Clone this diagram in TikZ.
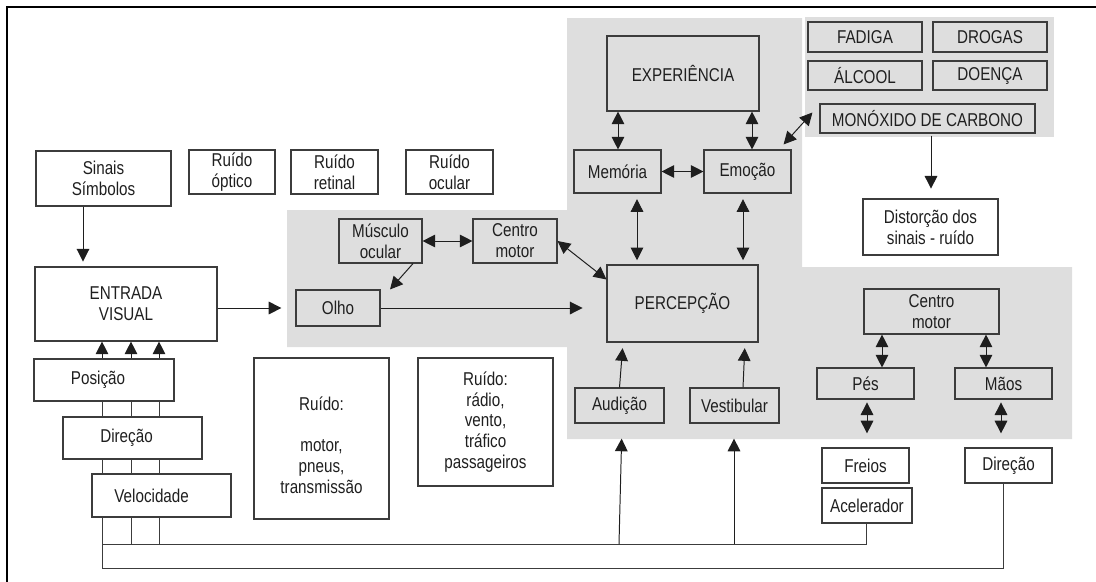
\documentclass[tikz,border=0pt]{standalone}
\usepackage{fontspec}
\setmainfont{Liberation Sans}[FakeStretch=0.82]
\usetikzlibrary{arrows.meta, calc}
\definecolor{fundo}{RGB}{222,222,222}
\definecolor{borda}{RGB}{60,60,60}
\definecolor{traco}{RGB}{30,30,30}

\begin{document}
\begin{tikzpicture}[x=0.025cm, y=-0.025cm,
    every node/.style={font=\fontsize{13.2}{14.8}\selectfont, text=black!88},
    tam/.style 2 args={minimum width=#1*0.025cm, minimum height=#2*0.025cm},
    cx/.style={draw=borda, line width=0.8pt, align=center, inner sep=0pt, fill=white},
    cz/.style={cx, fill=fundo},
    linha/.style={draw=borda, line width=0.7pt},
    seta/.style={draw=traco, line width=0.7pt, -{Triangle[length=9pt,width=9pt]}},
    dupla/.style={draw=traco, line width=0.7pt, {Triangle[length=9pt,width=9pt]}-{Triangle[length=9pt,width=9pt]}}]
  \useasboundingbox (0,0) rectangle (1096,581);
  \fill[fundo] (287,210) -- (567,210) -- (567,18) -- (802,18) -- (802,267) -- (1072,267)
    -- (1072,439) -- (567,439) -- (567,347) -- (287,347) -- cycle;
  \fill[fundo] (805,17) rectangle (1054,137);
  \draw[line width=2pt] (7,7) rectangle (1110,595);

  \node[cx, tam={135}{55}] (sinais) at (103.5,178.5) {Sinais\\Símbolos};
  \node[cx, tam={86}{44}] (roptico) at (232,172) {Ruído\\óptico};
  \node[cx, tam={87}{44}] (rretinal) at (334.5,172) {Ruído\\retinal};
  \node[cx, tam={87}{44}] (rocular) at (449.5,172) {Ruído\\ocular};
  \node[cx, tam={182}{74}] (entrada) at (126,304) {ENTRADA\\VISUAL};
  \node[cz, tam={83}{44}] (musculo) at (380.5,241) {Músculo\\ocular};
  \node[cz, tam={84}{44}] (centroa) at (515,241) {Centro\\motor};
  \node[cz, tam={84}{36}] (olho) at (338,308) {Olho};
  \node[cz, tam={152}{75}] (experiencia) at (683,73.5) {EXPERIÊNCIA};
  \node[cz, tam={87}{43}] (memoria) at (617.5,171.5) {Memória};
  \node[cz, tam={87}{43}] (emocao) at (747.5,171.5) {Emoção};
  \node[cz, tam={114}{30}] (fadiga) at (865,37) {FADIGA};
  \node[cz, tam={114}{30}] (drogas) at (990,37) {DROGAS};
  \node[cz, tam={114}{29}] (alcool) at (865,75.5) {ÁLCOOL};
  \node[cz, tam={114}{29}] (doenca) at (990,75.5) {DOENÇA};
  \node[cz, tam={215}{29}] (monoxido) at (927.5,118.5) {MONÓXIDO DE CARBONO};
  \node[cx, tam={135}{56}] (distorcao) at (930.5,227) {Distorção dos\\sinais - ruído};
  \node[cz, tam={151}{77}] (percepcao) at (682.5,303.5) {PERCEPÇÃO};
  \node[cz, tam={89}{35}] (audicao) at (619.5,405.5) {Audição};
  \node[cz, tam={89}{35}] (vestibular) at (734.5,405.5) {Vestibular};
  \node[cz, tam={135}{45}] (centrob) at (931.5,311.5) {Centro\\motor};
  \node[cz, tam={97}{31}] (pes) at (865.5,383.5) {Pés};
  \node[cz, tam={97}{31}] (maos) at (1003.5,383.5) {Mãos};
  \node[cx, tam={87}{35}] (freios) at (865.5,465.5) {Freios};
  \node[cx, tam={90}{35}] (acelerador) at (867,505.5) {Acelerador};
  \node[cx, tam={87}{35}] (direcaob) at (1008.5,465.5) {Direção};
  \node[cx, tam={140}{42}] (posicao) at (104,380) {Posição\hspace*{8.5pt}};
  \node[cx, tam={139}{42}] (direcaoa) at (132.5,438) {Direção\hspace*{8.5pt}};
  \node[cx, tam={139}{43}] (velocidade) at (161.5,495.5) {Velocidade\hspace*{14pt}};
  \node[cx, tam={135}{161}] (rmotor) at (321.5,438.5) {\rule{0pt}{19pt}Ruído:\\[14.8pt]motor,\\pneus,\\transmissão};
  \node[cx, tam={135}{128}] (rradio) at (485.5,422) {Ruído:\\rádio,\\vento,\\tráfico\\passageiros};

  \draw[seta, shorten >=3.5pt] (83,0 |- sinais.south) -- (83,0 |- entrada.north);
  \draw[seta, shorten >=10pt] (entrada.east |- olho) -- (olho.west);
  \draw[dupla] (musculo.east) -- (centroa.west);
  \draw[seta] (413,0 |- musculo.south) -- (390,0 |- olho.north);
  \draw[dupla] (centroa.east) -- ($(percepcao.north west)+(0,15)$);
  \draw[seta, shorten >=17pt] (olho.east) -- (percepcao.west |- olho.east);
  \draw[dupla] (618,0 |- experiencia.south) -- (618,0 |- memoria.north);
  \draw[dupla] (752,0 |- experiencia.south) -- (752,0 |- emocao.north);
  \draw[dupla] (memoria) -- (emocao);
  \draw[dupla, shorten <=4pt, shorten >=3pt] (637,0 |- memoria.south) -- (637,0 |- percepcao.north);
  \draw[dupla, shorten <=4pt, shorten >=3pt] (743,0 |- emocao.south) -- (743,0 |- percepcao.north);
  \draw[dupla] ($(emocao.north east)+(-8,-5)$) -- ($(monoxido.west)+(-7,-6)$);
  \draw[seta, shorten <=1.5pt, shorten >=7pt] (931,0 |- monoxido.south) -- (931,0 |- distorcao.north);
  \draw[seta, shorten >=4pt] (audicao.north) -- (623,0 |- percepcao.south);
  \draw[seta, shorten >=4pt] (743,0 |- vestibular.north) -- (745,0 |- percepcao.south);
  \draw[dupla] (882,0 |- centrob.south) -- (882,0 |- pes.north);
  \draw[dupla] (986,0 |- centrob.south) -- (986,0 |- maos.north);
  \draw[dupla, shorten <=2pt, shorten >=10pt] (867,0 |- pes.south) -- (867,0 |- freios.north);
  \draw[dupla, shorten <=2pt, shorten >=10pt] (1001,0 |- maos.south) -- (1001,0 |- direcaob.north);

  \coordinate (ba) at (102,544);
  \coordinate (bb) at (102,568);
  \foreach \x in {102,131,159} {
    \draw[seta] (\x,0 |- posicao.north) -- (\x,0 |- entrada.south);
    \draw[linha] (\x,0 |- posicao.south) -- (\x,0 |- direcaoa.north);
    \draw[linha] (\x,0 |- direcaoa.south) -- (\x,0 |- velocidade.north);
    \draw[linha] (\x,0 |- velocidade.south) -- (\x,0 |- ba);
  }
  \draw[linha] (ba) -- (bb) -- (1003,0 |- bb) -- (1003,0 |- direcaob.south);
  \draw[linha] (ba) -- (866,0 |- ba) -- (866,0 |- acelerador.south);
  \draw[seta, shorten >=10.7pt] (619,0 |- ba) -- (622,0 |- audicao.south);
  \draw[seta, shorten >=10.7pt] (734,0 |- ba) -- (734,0 |- vestibular.south);
\end{tikzpicture}
\end{document}
